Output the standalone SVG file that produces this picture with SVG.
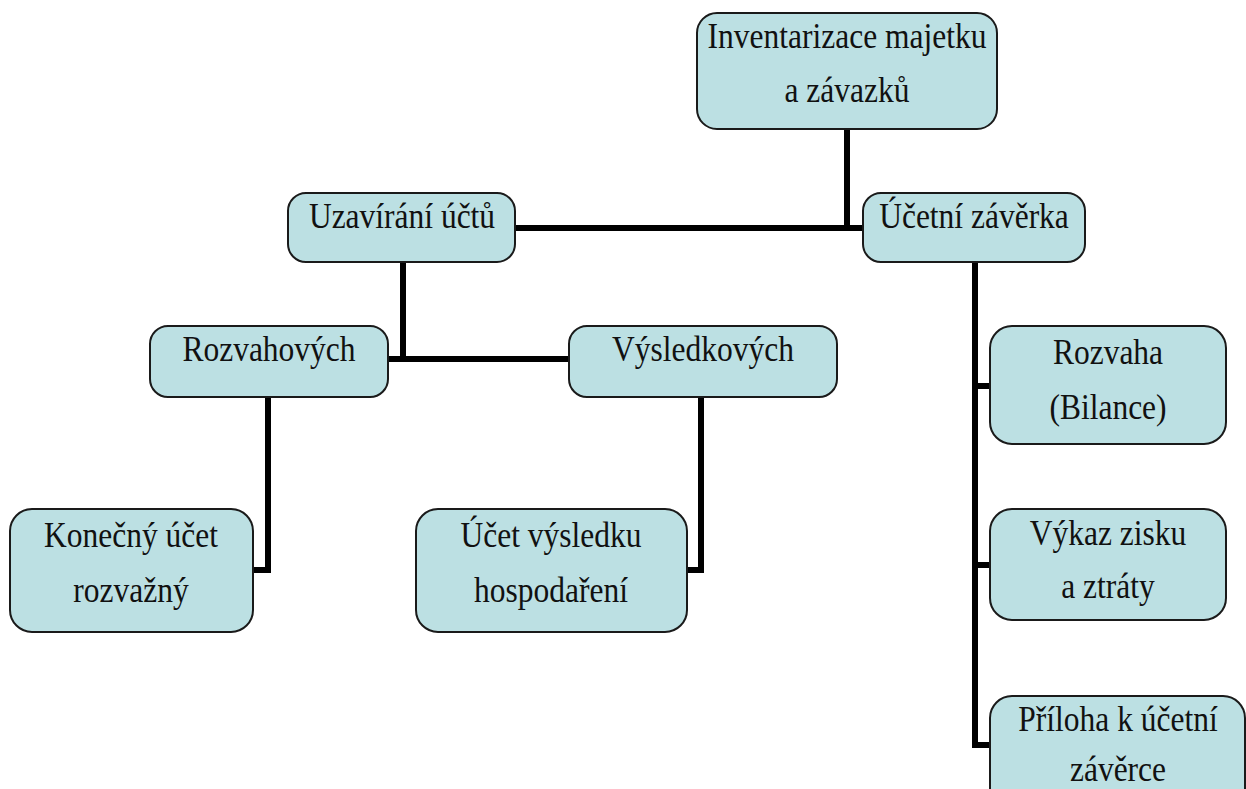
<svg xmlns="http://www.w3.org/2000/svg" width="1246" height="789" viewBox="0 0 1246 789">
  <style>
    .box { fill: #bce0e3; stroke: #1a1a1a; stroke-width: 2; }
    .lbl { font-family: "Liberation Serif", "Times New Roman", serif; font-size: 35px; fill: #111; text-anchor: middle; }
    .wire { fill: none; stroke: #000; stroke-width: 6; stroke-linejoin: miter; stroke-linecap: butt; }
  </style>
  <rect width="1246" height="789" fill="#fff"/>

  <!-- connectors -->
  <g id="connectors" class="wire">
    <path d="M847 129 V228"/>
    <path d="M515 228 H863"/>
    <path d="M403 262 V359"/>
    <path d="M388 359 H569"/>
    <path d="M268 397 V570 H253"/>
    <path d="M701 397 V570 H687"/>
    <path d="M975 262 V748"/>
    <path d="M972 386 H990"/>
    <path d="M972 565 H990"/>
    <path d="M972 745 H990"/>
  </g>

  <!-- labels use a slightly condensed serif: matrix(0.9 0 0 1 cx 0) -->
  <g id="inventarizace">
    <rect class="box" x="697" y="13" width="300" height="116" rx="20"/>
    <text class="lbl" transform="matrix(0.9 0 0 1 847 0)" x="0" y="48">Inventarizace majetku</text>
    <text class="lbl" transform="matrix(0.9 0 0 1 847 0)" x="0" y="102">a závazků</text>
  </g>

  <g id="uzavirani">
    <rect class="box" x="288" y="193" width="227" height="69" rx="18"/>
    <text class="lbl" transform="matrix(0.9 0 0 1 402 0)" x="0" y="228">Uzavírání účtů</text>
  </g>

  <g id="ucetni-zaverka">
    <rect class="box" x="863" y="193" width="222" height="69" rx="18"/>
    <text class="lbl" transform="matrix(0.9 0 0 1 974 0)" x="0" y="228">Účetní závěrka</text>
  </g>

  <g id="rozvahovych">
    <rect class="box" x="150" y="326" width="238" height="71" rx="18"/>
    <text class="lbl" transform="matrix(0.9 0 0 1 269 0)" x="0" y="361">Rozvahových</text>
  </g>

  <g id="vysledkovych">
    <rect class="box" x="569" y="326" width="268" height="71" rx="18"/>
    <text class="lbl" transform="matrix(0.9 0 0 1 703 0)" x="0" y="361">Výsledkových</text>
  </g>

  <g id="konecny-ucet">
    <rect class="box" x="10" y="509" width="243" height="123" rx="22"/>
    <text class="lbl" transform="matrix(0.9 0 0 1 131 0)" x="0" y="547">Konečný účet</text>
    <text class="lbl" transform="matrix(0.9 0 0 1 131 0)" x="0" y="602">rozvažný</text>
  </g>

  <g id="ucet-vysledku">
    <rect class="box" x="416" y="509" width="271" height="123" rx="22"/>
    <text class="lbl" transform="matrix(0.9 0 0 1 551 0)" x="0" y="547">Účet výsledku</text>
    <text class="lbl" transform="matrix(0.9 0 0 1 551 0)" x="0" y="602">hospodaření</text>
  </g>

  <g id="rozvaha">
    <rect class="box" x="990" y="326" width="236" height="118" rx="22"/>
    <text class="lbl" transform="matrix(0.9 0 0 1 1108 0)" x="0" y="364">Rozvaha</text>
    <text class="lbl" transform="matrix(0.9 0 0 1 1108 0)" x="0" y="419">(Bilance)</text>
  </g>

  <g id="vykaz">
    <rect class="box" x="990" y="509" width="236" height="111" rx="22"/>
    <text class="lbl" transform="matrix(0.9 0 0 1 1108 0)" x="0" y="545">Výkaz zisku</text>
    <text class="lbl" transform="matrix(0.9 0 0 1 1108 0)" x="0" y="598">a ztráty</text>
  </g>

  <g id="priloha">
    <rect class="box" x="990" y="696" width="255" height="120" rx="22"/>
    <text class="lbl" transform="matrix(0.9 0 0 1 1118 0)" x="0" y="731">Příloha k účetní</text>
    <text class="lbl" transform="matrix(0.9 0 0 1 1118 0)" x="0" y="781">závěrce</text>
  </g>
</svg>
